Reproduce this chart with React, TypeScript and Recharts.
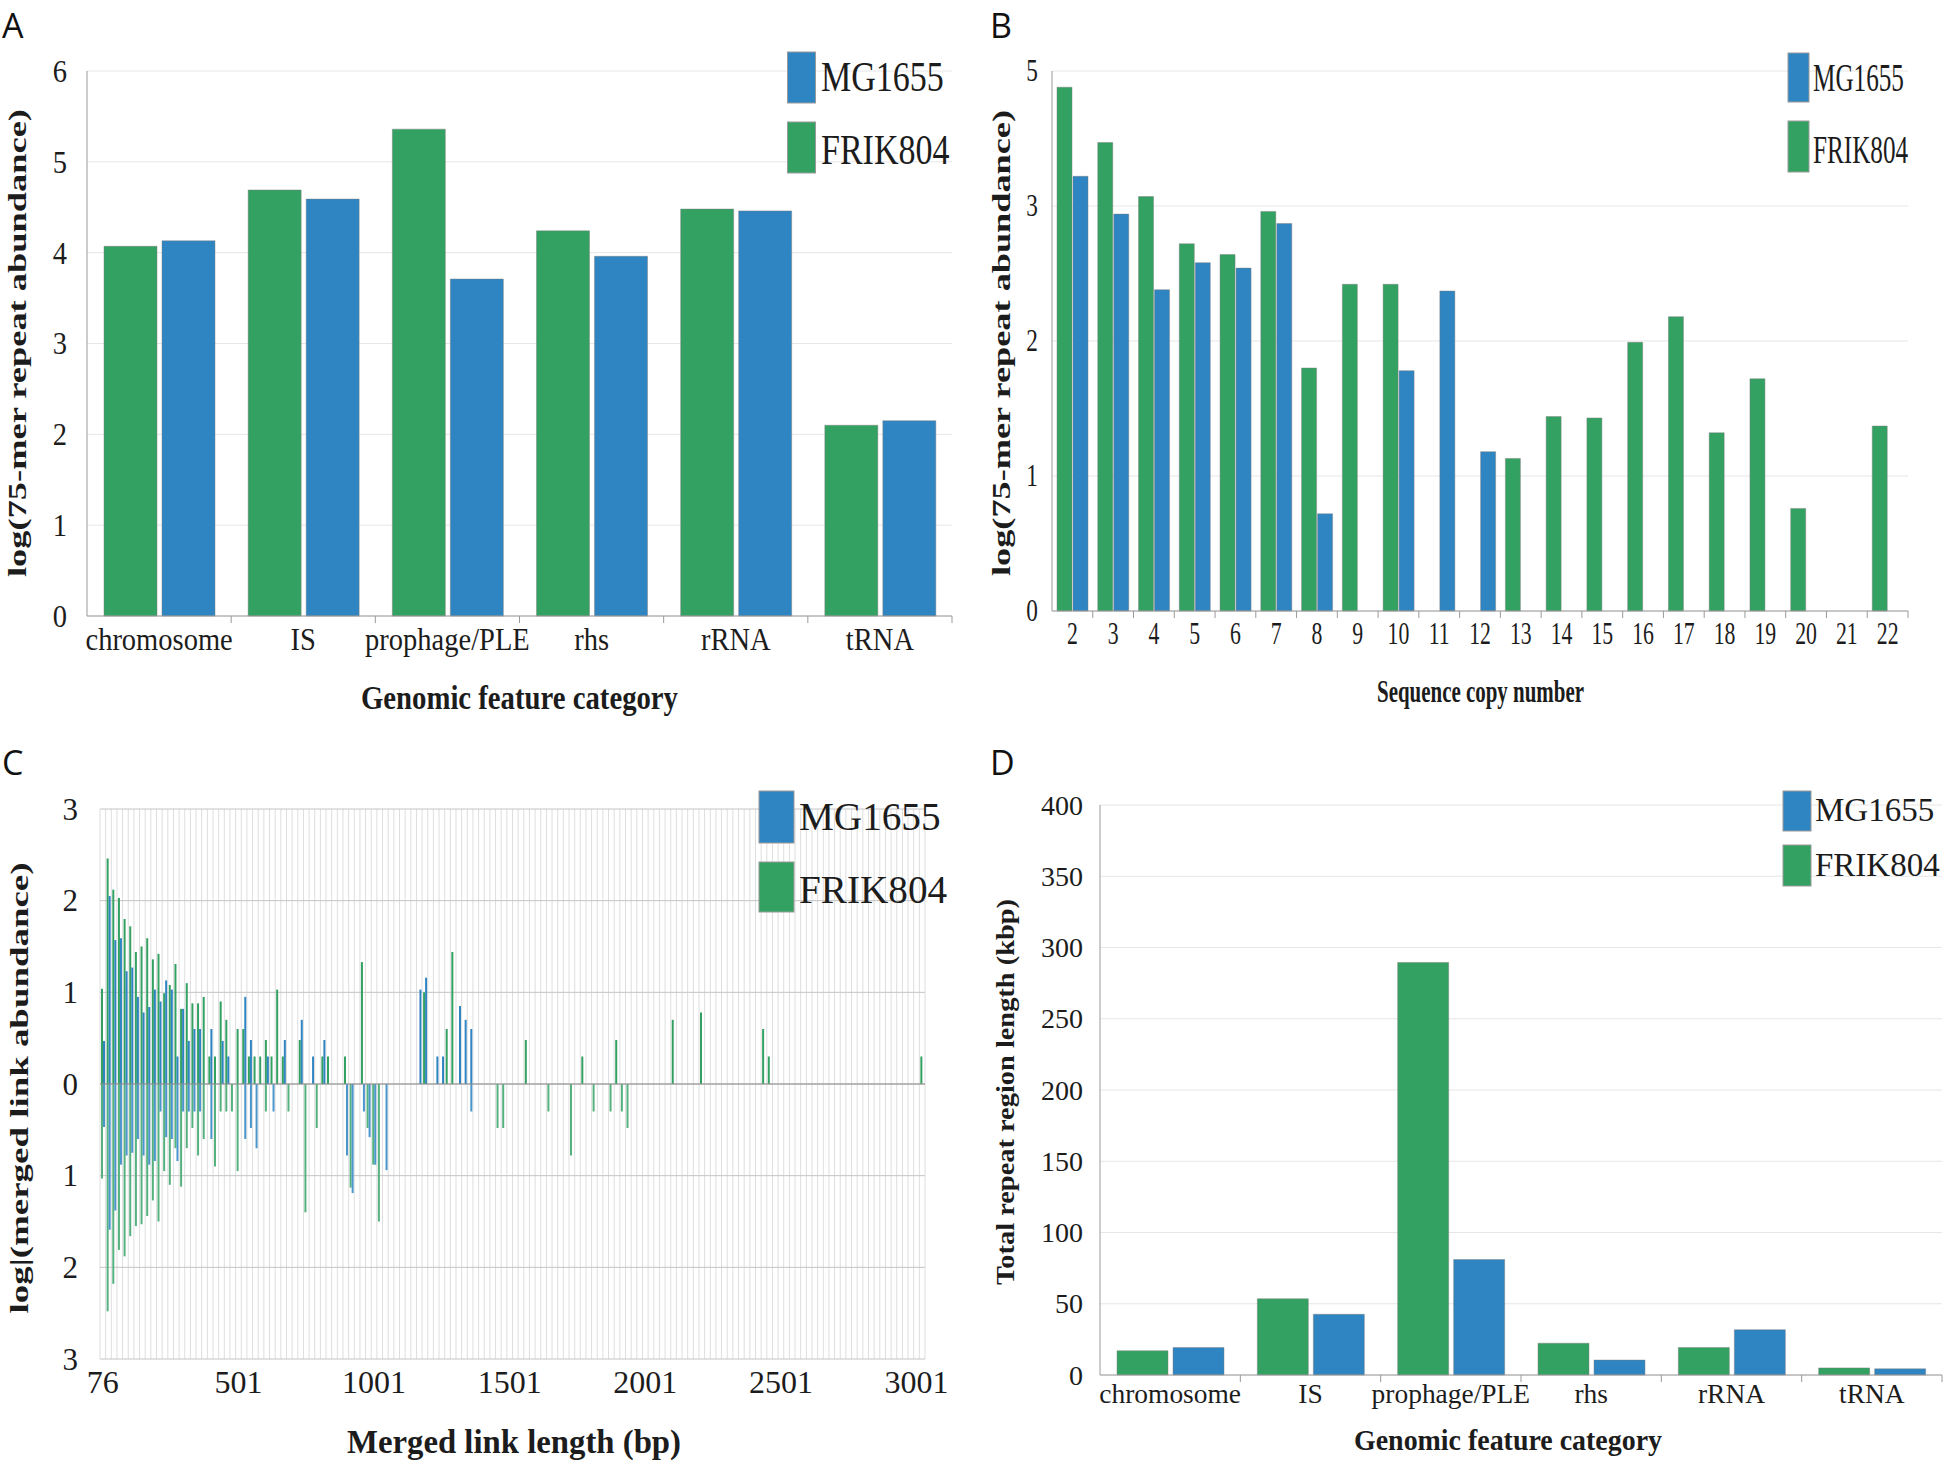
import React from 'react';
import { BarChart, Bar, XAxis, YAxis, CartesianGrid, ReferenceLine } from 'recharts';

const GREEN = '#33a162';
const BLUE = '#2e85c2';
const GREEN_DOWN = '#55b27f';
const BLUE_DOWN = '#4a96cd';
const SERIF = '"Liberation Serif", "Times New Roman", serif';
const SANS = '"Open Sans", "DejaVu Sans", sans-serif';
const AXIS = '#9a9a9a';
const GRID = '#e6e6e6';
const TEXT = '#1c1c1c';

// ---------- Panel A: log(75-mer repeat abundance) by genomic feature ----------
const featureCategories = ['chromosome', 'IS', 'prophage/PLE', 'rhs', 'rRNA', 'tRNA'];
const repeatAbundanceFRIK804 = [4.07, 4.69, 5.36, 4.24, 4.48, 2.1];
const repeatAbundanceMG1655 = [4.13, 4.59, 3.71, 3.96, 4.46, 2.15];
const abundanceTicks = [0, 1, 2, 3, 4, 5, 6];

// ---------- Panel B: log abundance by sequence copy number ----------
const copyNumbers = ['2', '3', '4', '5', '6', '7', '8', '9', '10', '11', '12', '13', '14', '15', '16', '17', '18', '19', '20', '21', '22'];
const copyFRIK804 = [3.88, 3.47, 3.07, 2.72, 2.64, 2.96, 1.8, 2.42, 2.42, 0, 0, 1.13, 1.44, 1.43, 1.99, 2.18, 1.32, 1.72, 0.76, 0, 1.37];
const copyMG1655 = [3.22, 2.94, 2.38, 2.58, 2.54, 2.87, 0.72, 0, 1.78, 2.37, 1.18, 0, 0, 0, 0, 0, 0, 0, 0, 0, 0];
const copyTicks = [0, 1, 2, 3, 4];
const copyTickLabels = ['0', '1', '2', '3', '5'];

// ---------- Panel C: log|merged link abundance| by merged link length ----------
const linkTickIndex = [0, 24, 48, 72, 96, 120, 144];
const linkTickLabels = ['76', '501', '1001', '1501', '2001', '2501', '3001'];
const linkValueTicks = [-3, -2, -1, 0, 1, 2, 3];
const linkUpFRIK804 = [
  1.04, 2.46, 2.12, 2.03, 1.8, 1.72, 1.44, 1.5, 1.59, 1.36,
  1.42, 0.99, 1.08, 1.31, 0.82, 1.1, 0.88, 0.88, 0.95, 0.3,
  0.3, 0.9, 0.7, 0, 0.6, 0.6, 0.3, 0.3, 0.3, 0.48,
  0.3, 1.03, 0.3, 0, 0, 0.48, 0, 0, 0, 0.3,
  0.3, 0, 0, 0.3, 0, 0, 1.33, 0, 0, 0,
  0, 0, 0, 0, 0, 0, 0, 1.0, 0, 0,
  0, 0.6, 1.44, 0, 0, 0, 0, 0, 0, 0,
  0, 0, 0, 0, 0, 0.48, 0, 0, 0, 0,
  0, 0, 0, 0, 0, 0.3, 0, 0, 0, 0,
  0, 0.48, 0, 0, 0, 0, 0, 0, 0, 0,
  0, 0.7, 0, 0, 0, 0, 0.78, 0, 0, 0,
  0, 0, 0, 0, 0, 0, 0, 0.6, 0.3, 0,
  0, 0, 0, 0, 0, 0, 0, 0, 0, 0,
  0, 0, 0, 0, 0, 0, 0, 0, 0, 0,
  0, 0, 0, 0, 0, 0.3,
];
const linkDownFRIK804 = [
  1.03, 2.48, 2.18, 1.81, 1.88, 1.66, 1.55, 1.53, 1.44, 1.27,
  1.5, 0.95, 1.1, 0.7, 1.12, 0.7, 0.48, 0.78, 0.6, 0,
  0.9, 0.3, 0.3, 0.3, 0.95, 0, 0, 0, 0, 0.3,
  0, 0, 0, 0.3, 0, 0, 1.4, 0, 0.48, 0,
  0, 0, 0, 0, 1.13, 0, 0, 0.48, 0.88, 1.5,
  0, 0, 0, 0, 0, 0, 0, 0, 0, 0,
  0, 0, 0, 0, 0, 0, 0, 0, 0, 0,
  0.48, 0.48, 0, 0, 0, 0, 0, 0, 0, 0.3,
  0, 0, 0, 0.78, 0, 0, 0, 0.3, 0, 0,
  0.3, 0, 0.3, 0.48, 0, 0, 0, 0, 0, 0,
  0, 0, 0, 0, 0, 0, 0, 0, 0, 0,
  0, 0, 0, 0, 0, 0, 0, 0, 0, 0,
  0, 0, 0, 0, 0, 0, 0, 0, 0, 0,
  0, 0, 0, 0, 0, 0, 0, 0, 0, 0,
  0, 0, 0, 0, 0, 0,
];
const linkUpMG1655 = [
  0.47, 2.05, 1.57, 1.59, 1.23, 1.27, 0.95, 0.78, 0.84, 1.03,
  0.9, 1.13, 1.03, 0.3, 0.82, 0.47, 0.6, 0.6, 0, 0.6,
  0, 0.47, 0.3, 0, 0, 0.95, 0.48, 0, 0, 0.3,
  0, 0, 0.48, 0, 0, 0.7, 0, 0.3, 0, 0.48,
  0, 0, 0, 0, 0, 0, 0, 0, 0, 0,
  0, 0, 0, 0, 0, 0, 1.03, 1.16, 0, 0.3,
  0.3, 0, 0, 0.85, 0.7, 0.6, 0, 0, 0, 0,
  0, 0, 0, 0, 0, 0, 0, 0, 0, 0,
  0, 0, 0, 0, 0, 0, 0, 0, 0, 0,
  0, 0, 0, 0, 0, 0, 0, 0, 0, 0,
  0, 0, 0, 0, 0, 0, 0, 0, 0, 0,
  0, 0, 0, 0, 0, 0, 0, 0, 0, 0,
  0, 0, 0, 0, 0, 0, 0, 0, 0, 0,
  0, 0, 0, 0, 0, 0, 0, 0, 0, 0,
  0, 0, 0, 0, 0, 0,
];
const linkDownMG1655 = [
  0.47, 1.59, 1.38, 0.88, 0.78, 0.75, 0.6, 0.78, 0.88, 0.84,
  0.3, 0.58, 0.6, 0.84, 0.3, 0.3, 0.3, 0.3, 0, 0.6,
  0, 0, 0, 0, 0, 0.6, 0.48, 0.7, 0, 0,
  0.3, 0, 0, 0, 0, 0, 0, 0, 0, 0,
  0, 0, 0, 0.78, 1.19, 0, 0.3, 0.58, 0.88, 0,
  0.94, 0, 0, 0, 0, 0, 0, 0, 0, 0,
  0, 0, 0, 0, 0, 0.3, 0, 0, 0, 0,
  0, 0, 0, 0, 0, 0, 0, 0, 0, 0,
  0, 0, 0, 0, 0, 0, 0, 0, 0, 0,
  0, 0, 0, 0, 0, 0, 0, 0, 0, 0,
  0, 0, 0, 0, 0, 0, 0, 0, 0, 0,
  0, 0, 0, 0, 0, 0, 0, 0, 0, 0,
  0, 0, 0, 0, 0, 0, 0, 0, 0, 0,
  0, 0, 0, 0, 0, 0, 0, 0, 0, 0,
  0, 0, 0, 0, 0, 0,
];

// ---------- Panel D: total repeat region length (kbp) ----------
const regionLengthFRIK804 = [17, 53.5, 289.5, 22.3, 19.3, 5];
const regionLengthMG1655 = [19.3, 42.6, 81, 10.5, 31.8, 4.3];
const lengthTicks = [0, 50, 100, 150, 200, 250, 300, 350, 400];

// ---------- tables ----------
const featureData = featureCategories.map((name, i) => ({ name, FRIK804: repeatAbundanceFRIK804[i], MG1655: repeatAbundanceMG1655[i] }));
const copyData = copyNumbers.map((name, i) => ({ name, FRIK804: copyFRIK804[i], MG1655: copyMG1655[i] }));
const linkData = linkUpFRIK804.map((v, i) => ({
  bin: i,
  frUp: v,
  frDown: -linkDownFRIK804[i],
  mgUp: linkUpMG1655[i],
  mgDown: -linkDownMG1655[i],
}));
const lengthData = featureCategories.map((name, i) => ({ name, FRIK804: regionLengthFRIK804[i], MG1655: regionLengthMG1655[i] }));

// ---------- tick renderers ----------
function makeCategoryTick(o: { fontSize: number; scaleX: number; dy: number; band: number; format?: (v: any) => string }) {
  return (props: any) => {
    const { x, y, payload } = props;
    const label = o.format ? o.format(payload.value) : String(payload.value);
    return (
      <g>
        {o.band > 0 ? (
          <line x1={x + o.band / 2} x2={x + o.band / 2} y1={y} y2={y + 7} stroke={AXIS} strokeWidth={1} />
        ) : null}
        <text
          transform={`translate(${x},${y + o.dy}) scale(${o.scaleX},1)`}
          textAnchor="middle"
          fontFamily={SERIF}
          fontSize={o.fontSize}
          fill={TEXT}
        >
          {label}
        </text>
      </g>
    );
  };
}

function makeValueTick(o: { fontSize: number; scaleX: number; format?: (v: number) => string }) {
  return (props: any) => {
    const { x, y, payload } = props;
    const label = o.format ? o.format(payload.value) : String(payload.value);
    return (
      <text
        transform={`translate(${x},${y}) scale(${o.scaleX},1)`}
        textAnchor="end"
        dominantBaseline="central"
        fontFamily={SERIF}
        fontSize={o.fontSize}
        fill={TEXT}
      >
        {label}
      </text>
    );
  };
}

const barStroke = { stroke: '#7d7d7d', strokeOpacity: 0.45, strokeWidth: 1 };

function PanelA() {
  return (
    <BarChart width={980} height={730} data={featureData} margin={{ top: 71, right: 28, bottom: 0, left: 0 }} barSize={53} barGap={5}>
      <CartesianGrid vertical={false} stroke={GRID} />
      <XAxis
        dataKey="name"
        height={114}
        interval={0}
        tickSize={0}
        tickMargin={0}
        tickLine={false}
        axisLine={{ stroke: AXIS }}
        tick={makeCategoryTick({ fontSize: 31, scaleX: 0.92, dy: 34, band: 865 / 6 })}
      />
      <YAxis
        width={87}
        domain={[0, 6]}
        ticks={abundanceTicks}
        interval={0}
        tickSize={0}
        tickMargin={20}
        tickLine={false}
        axisLine={{ stroke: AXIS }}
        tick={makeValueTick({ fontSize: 31, scaleX: 0.92 })}
      />
      <Bar dataKey="FRIK804" fill={GREEN} {...barStroke} isAnimationActive={false} />
      <Bar dataKey="MG1655" fill={BLUE} {...barStroke} isAnimationActive={false} />
    </BarChart>
  );
}

function PanelB() {
  return (
    <BarChart width={966} height={730} data={copyData} margin={{ top: 71, right: 38, bottom: 0, left: 0 }} barSize={15} barGap={1}>
      <CartesianGrid vertical={false} stroke={GRID} />
      <XAxis
        dataKey="name"
        height={119}
        interval={0}
        tickSize={0}
        tickMargin={0}
        tickLine={false}
        axisLine={{ stroke: AXIS }}
        tick={makeCategoryTick({ fontSize: 32, scaleX: 0.68, dy: 33, band: 856 / 21 })}
      />
      <YAxis
        width={72}
        domain={[0, 4]}
        ticks={copyTicks}
        interval={0}
        tickSize={0}
        tickMargin={14}
        tickLine={false}
        axisLine={{ stroke: AXIS }}
        tick={makeValueTick({ fontSize: 31, scaleX: 0.75, format: (v) => copyTickLabels[copyTicks.indexOf(v)] ?? String(v) })}
      />
      <Bar dataKey="FRIK804" fill={GREEN} {...barStroke} isAnimationActive={false} />
      <Bar dataKey="MG1655" fill={BLUE} {...barStroke} isAnimationActive={false} />
    </BarChart>
  );
}

function PanelC() {
  const n = linkData.length;
  return (
    <BarChart
      width={980}
      height={734}
      data={linkData}
      margin={{ top: 79, right: 55, bottom: 0, left: 0 }}
      stackOffset="sign"
      barSize={2}
      barGap={0}
    >
      <CartesianGrid
        horizontal={false}
        stroke="#dedede"
        verticalCoordinatesGenerator={({ offset }: any) => {
          const pts: number[] = [];
          for (let i = 0; i <= n; i++) pts.push(offset.left + (offset.width * i) / n);
          return pts;
        }}
      />
      <CartesianGrid vertical={false} stroke="#c4c4c4" />
      <XAxis
        dataKey="bin"
        type="category"
        height={105}
        interval={23}
        tickSize={0}
        tickMargin={0}
        tickLine={false}
        axisLine={false}
        tick={makeCategoryTick({
          fontSize: 32,
          scaleX: 1,
          dy: 34,
          band: 0,
          format: (v) => linkTickLabels[linkTickIndex.indexOf(Number(v))] ?? '',
        })}
      />
      <YAxis
        width={100}
        domain={[-3, 3]}
        ticks={linkValueTicks}
        interval={0}
        tickSize={0}
        tickMargin={22}
        tickLine={false}
        axisLine={false}
        tick={makeValueTick({ fontSize: 31, scaleX: 1, format: (v) => String(Math.abs(v)) })}
      />
      <Bar dataKey="frUp" stackId="fr" fill={GREEN} isAnimationActive={false} />
      <Bar dataKey="frDown" stackId="fr" fill={GREEN_DOWN} isAnimationActive={false} />
      <Bar dataKey="mgUp" stackId="mg" fill={BLUE} isAnimationActive={false} />
      <Bar dataKey="mgDown" stackId="mg" fill={BLUE_DOWN} isAnimationActive={false} />
      <ReferenceLine y={0} stroke="#8f8f8f" strokeWidth={1} />
    </BarChart>
  );
}

function PanelD() {
  return (
    <BarChart width={966} height={734} data={lengthData} margin={{ top: 75, right: 4, bottom: 0, left: 0 }} barSize={51} barGap={5}>
      <CartesianGrid vertical={false} stroke={GRID} />
      <XAxis
        dataKey="name"
        height={89}
        interval={0}
        tickSize={0}
        tickMargin={0}
        tickLine={false}
        axisLine={{ stroke: AXIS }}
        tick={makeCategoryTick({ fontSize: 28, scaleX: 0.98, dy: 28, band: 842 / 6 })}
      />
      <YAxis
        width={120}
        domain={[0, 400]}
        ticks={lengthTicks}
        interval={0}
        tickSize={0}
        tickMargin={17}
        tickLine={false}
        axisLine={{ stroke: AXIS }}
        tick={makeValueTick({ fontSize: 28, scaleX: 1 })}
      />
      <Bar dataKey="FRIK804" fill={GREEN} {...barStroke} isAnimationActive={false} />
      <Bar dataKey="MG1655" fill={BLUE} {...barStroke} isAnimationActive={false} />
    </BarChart>
  );
}

type LegendSpec = {
  x: number;
  w: number;
  blueY: number;
  blueH: number;
  greenY: number;
  greenH: number;
  tx: number;
  mgBase: number;
  frBase: number;
  font: number;
  sx: number;
};

const legends: LegendSpec[] = [
  { x: 787.5, w: 28, blueY: 52, blueH: 51, greenY: 122, greenH: 51, tx: 821, mgBase: 91, frBase: 164, font: 42, sx: 0.81 },
  { x: 1788, w: 21, blueY: 53, blueH: 49, greenY: 121, greenH: 51, tx: 1813, mgBase: 91, frBase: 163, font: 40, sx: 0.63 },
  { x: 759, w: 35, blueY: 791, blueH: 52, greenY: 862, greenH: 50, tx: 799, mgBase: 830, frBase: 903, font: 40, sx: 0.98 },
  { x: 1783, w: 28, blueY: 791, blueH: 40, greenY: 845, greenH: 41, tx: 1815, mgBase: 821, frBase: 876, font: 33, sx: 1.0 },
];

function Overlay() {
  const bold = { fontFamily: SERIF, fontWeight: 700, fill: TEXT } as const;
  return (
    <svg width={1946} height={1464} style={{ position: 'absolute', left: 0, top: 0, pointerEvents: 'none' }}>
      {/* panel letters */}
      <text x={2} y={38} fontFamily={SANS} fontSize={34} fill="#111">A</text>
      <text x={990} y={38} fontFamily={SANS} fontSize={34} fill="#111">B</text>
      <text x={2} y={775} fontFamily={SANS} fontSize={34} fill="#111">C</text>
      <text x={990} y={775} fontFamily={SANS} fontSize={34} fill="#111">D</text>

      {/* axis titles */}
      <text x={519.5} y={709} textAnchor="middle" fontSize={33} textLength={317} lengthAdjust="spacingAndGlyphs" {...bold}>
        Genomic feature category
      </text>
      <text transform="translate(17,343) rotate(-90)" textAnchor="middle" dominantBaseline="central" fontSize={25} textLength={468} lengthAdjust="spacingAndGlyphs" {...bold}>
        log(75-mer repeat abundance)
      </text>
      <text x={1480.5} y={702} textAnchor="middle" fontSize={32} textLength={207} lengthAdjust="spacingAndGlyphs" {...bold}>
        Sequence copy number
      </text>
      <text transform="translate(1001.5,343) rotate(-90)" textAnchor="middle" dominantBaseline="central" fontSize={25} textLength={466} lengthAdjust="spacingAndGlyphs" {...bold}>
        log(75-mer repeat abundance)
      </text>
      <text x={514} y={1453} textAnchor="middle" fontSize={33} textLength={334} lengthAdjust="spacingAndGlyphs" {...bold}>
        Merged link length (bp)
      </text>
      <text transform="translate(19,1088) rotate(-90)" textAnchor="middle" dominantBaseline="central" fontSize={26} textLength={451} lengthAdjust="spacingAndGlyphs" {...bold}>
        log|(merged link abundance)
      </text>
      <text x={1508} y={1450} textAnchor="middle" fontSize={29} textLength={308} lengthAdjust="spacingAndGlyphs" {...bold}>
        Genomic feature category
      </text>
      <text transform="translate(1005,1092) rotate(-90)" textAnchor="middle" dominantBaseline="central" fontSize={26} textLength={386} lengthAdjust="spacingAndGlyphs" {...bold}>
        Total repeat region length (kbp)
      </text>

      {/* legends */}
      {legends.map((l, i) => (
        <g key={i}>
          <rect x={l.x} y={l.blueY} width={l.w} height={l.blueH} fill={BLUE} stroke="#9a9a9a" strokeWidth={1} />
          <rect x={l.x} y={l.greenY} width={l.w} height={l.greenH} fill={GREEN} stroke="#9a9a9a" strokeWidth={1} />
          <text transform={`translate(${l.tx},${l.mgBase}) scale(${l.sx},1)`} fontFamily={SERIF} fontSize={l.font} fill={TEXT}>
            MG1655
          </text>
          <text transform={`translate(${l.tx},${l.frBase}) scale(${l.sx},1)`} fontFamily={SERIF} fontSize={l.font} fill={TEXT}>
            FRIK804
          </text>
        </g>
      ))}
    </svg>
  );
}

export default function App() {
  return (
    <div style={{ position: 'absolute', left: 0, top: 0, width: 1946, height: 1464, background: '#ffffff', overflow: 'hidden' }}>
      <div style={{ position: 'absolute', left: 0, top: 0 }}>
        <PanelA />
      </div>
      <div style={{ position: 'absolute', left: 980, top: 0 }}>
        <PanelB />
      </div>
      <div style={{ position: 'absolute', left: 0, top: 730 }}>
        <PanelC />
      </div>
      <div style={{ position: 'absolute', left: 980, top: 730 }}>
        <PanelD />
      </div>
      <Overlay />
    </div>
  );
}
